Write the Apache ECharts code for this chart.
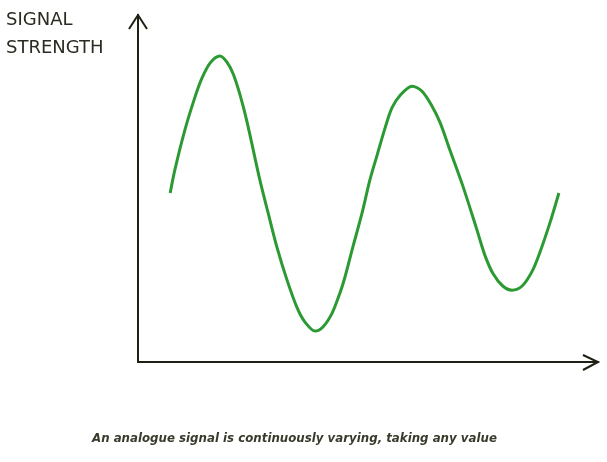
<!DOCTYPE html>
<html>
<head>
<meta charset="utf-8">
<script src="https://cdn.jsdelivr.net/npm/echarts@6/dist/echarts.min.js"></script>
<style>
  html, body { margin: 0; padding: 0; background: #fff; }
  #chart { width: 607px; height: 462px; }
</style>
</head>
<body>
<div id="chart"></div>
<script>
// time (0-100) and signal strength (0-100)
var timeData = [7.0, 8.0, 10.2, 12.4, 13.9, 15.7, 17.8, 19.3, 20.7, 22.2, 23.7, 26.5, 28.3, 30.2,
  32.4, 34.6, 36.3, 38.5, 40.2, 42.2, 43.9, 45.0, 46.7, 48.7, 50.4, 52.0, 53.7, 55.2, 57.0,
  59.6, 61.7, 63.9, 65.7, 67.8, 70.7, 73.7, 75.4, 77.2, 79.3, 81.3, 83.5, 85.7, 87.4, 89.6, 91.5];
var strengthData = [48.7, 55.3, 66.9, 76.4, 81.8, 86.2, 88.2, 86.5, 83.0, 76.9, 69.2, 52.4, 42.9, 33.1,
  23.6, 15.6, 11.5, 8.9, 10.1, 14.1, 19.9, 24.5, 33.1, 42.9, 52.4, 59.7, 67.4, 73.2, 76.9,
  79.5, 78.1, 73.8, 68.9, 61.1, 50.4, 38.0, 30.8, 25.4, 21.9, 20.7, 21.9, 26.2, 31.7, 40.3, 48.7];
var yAxisTitle = ["SIGNAL", "STRENGTH"];
var caption = "An analogue signal is continuously varying, taking any value";

var points = timeData.map(function (t, i) {
  return [t, strengthData[i]];
});

var axisColor = "#1f1f14";
var myChart = echarts.init(document.getElementById("chart"));

var option = {
  backgroundColor: "#ffffff",
  animation: false,
  grid: {
    left: 138,
    right: 9,
    top: 15,
    bottom: 100,
  },
  xAxis: {
    type: "value",
    min: 0,
    max: 100,
    axisLine: { show: true, lineStyle: { color: axisColor, width: 2 } },
    axisTick: { show: false },
    axisLabel: { show: false },
    splitLine: { show: false },
  },
  yAxis: {
    type: "value",
    min: 0,
    max: 100,
    axisLine: { show: true, lineStyle: { color: axisColor, width: 2 } },
    axisTick: { show: false },
    axisLabel: { show: false },
    splitLine: { show: false },
  },
  series: [
    {
      type: "line",
      data: points,
      smooth: 0.3,
      showSymbol: false,
      lineStyle: { color: "#2b9a32", width: 3 },
    },
  ],
  graphic: [
    // open arrow heads on both axes
    {
      type: "polyline",
      shape: { points: [[129, 29], [138, 15], [147, 29]] },
      style: { stroke: axisColor, lineWidth: 2, fill: null },
    },
    {
      type: "polyline",
      shape: { points: [[583, 355], [598, 362], [583, 370]] },
      style: { stroke: axisColor, lineWidth: 2, fill: null },
    },
    {
      type: "text",
      x: 6,
      y: 20,
      style: {
        text: yAxisTitle[0],
        font: "18px 'DejaVu Sans'",
        verticalAlign: "middle",
        fill: "#2b2b22",
      },
    },
    {
      type: "text",
      x: 6,
      y: 48,
      style: {
        text: yAxisTitle[1],
        font: "18px 'DejaVu Sans'",
        verticalAlign: "middle",
        fill: "#2b2b22",
      },
    },
    {
      type: "text",
      x: 92,
      y: 439,
      style: {
        text: caption,
        font: "italic bold 11.8px 'DejaVu Sans'",
        verticalAlign: "middle",
        fill: "#3a3a2c",
      },
    },
  ],
};

myChart.setOption(option);
</script>
</body>
</html>
